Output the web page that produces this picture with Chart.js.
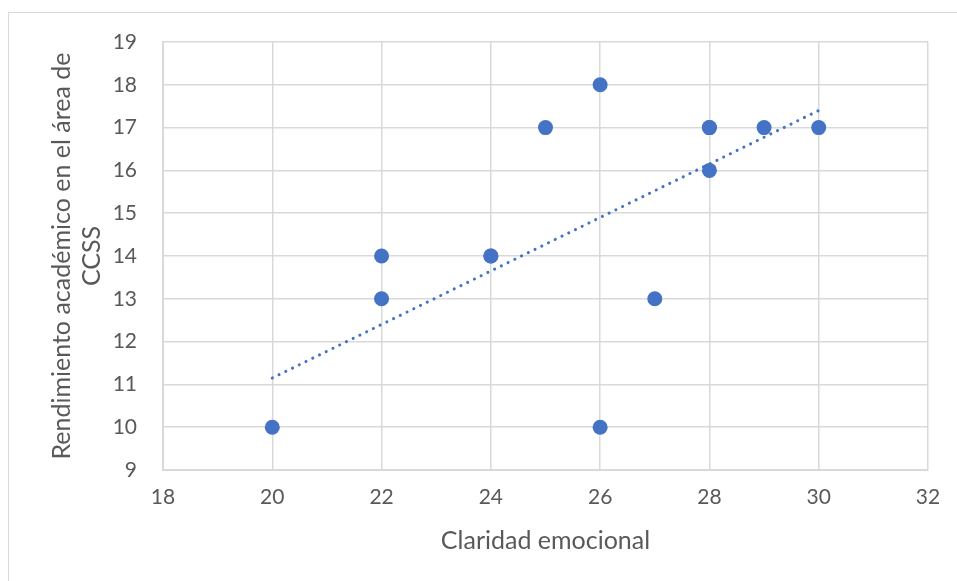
<!DOCTYPE html>
<html>
<head>
<meta charset="utf-8">
<script src="https://cdn.jsdelivr.net/npm/chart.js@4/dist/chart.umd.min.js"></script>
<style>
  html, body { margin: 0; padding: 0; background: #fff; overflow: hidden; }
  #wrap { position: relative; width: 957px; height: 581px; }
  #frame { position: absolute; left: 8px; top: 12px; width: 1000px; height: 700px; border: 1px solid #d9d9d9; }
  canvas { position: absolute; left: 0; top: 0; }
</style>
</head>
<body>
<div id="wrap">
  <div id="frame"></div>
  <canvas id="chart" width="957" height="581"></canvas>
</div>
<script>
const claridad = [20, 22, 22, 24, 24, 25, 26, 26, 27, 28, 28, 28, 29, 30];
const rendimiento = [10, 14, 13, 14, 14, 17, 18, 10, 13, 17, 17, 16, 17, 17];
const trendX = [20, 30];
const trendY = [11.15, 17.4];
const xTitle = 'Claridad emocional';
const yTitle = ['Rendimiento académico en el área de', 'CCSS'];

const BLUE = '#4472c4';
const GRID = '#d9d9d9';
const TEXT = '#595959';
const FONT = 'Lato, "Open Sans", sans-serif';

const points = claridad.map((x, i) => ({ x, y: rendimiento[i] }));
const trend = trendX.map((x, i) => ({ x, y: trendY[i] }));

new Chart(document.getElementById('chart'), {
  type: 'scatter',
  data: {
    datasets: [
      {
        label: 'Datos',
        data: points,
        backgroundColor: BLUE,
        borderColor: BLUE,
        pointRadius: 7.5,
        pointHoverRadius: 7.5,
        borderWidth: 0,
        order: 1,
      },
      {
        type: 'line',
        label: 'Tendencia',
        data: trend,
        borderColor: BLUE,
        borderWidth: 3,
        borderDash: [0.1, 7.4],
        borderCapStyle: 'round',
        pointRadius: 0,
        fill: false,
        order: 2,
      },
    ],
  },
  options: {
    responsive: false,
    animation: false,
    layout: { padding: { left: 47, top: 42, right: 29, bottom: 25 } },
    scales: {
      x: {
        type: 'linear',
        min: 18,
        max: 32,
        ticks: { stepSize: 2, color: TEXT, font: { family: FONT, size: 21 }, padding: 15 },
        grid: { color: GRID, lineWidth: 1.5, drawTicks: false },
        border: { color: GRID, width: 2 },
        title: { display: true, text: xTitle, color: TEXT, font: { family: FONT, size: 25, lineHeight: 1.2 }, padding: { top: 4, bottom: 0 } },
        afterFit: (scale) => { scale.height = 86; },
      },
      y: {
        type: 'linear',
        min: 9,
        max: 19,
        ticks: { stepSize: 1, color: TEXT, font: { family: FONT, size: 21 }, padding: 26 },
        grid: { color: GRID, lineWidth: 1.5, drawTicks: false },
        border: { color: GRID, width: 2 },
        title: { display: true, text: yTitle, color: TEXT, font: { family: FONT, size: 25, lineHeight: 1.2 }, padding: 0 },
        afterFit: (scale) => { scale.width = 116; },
      },
    },
    plugins: {
      legend: { display: false },
      tooltip: { enabled: false },
    },
  },
});
</script>
</body>
</html>
